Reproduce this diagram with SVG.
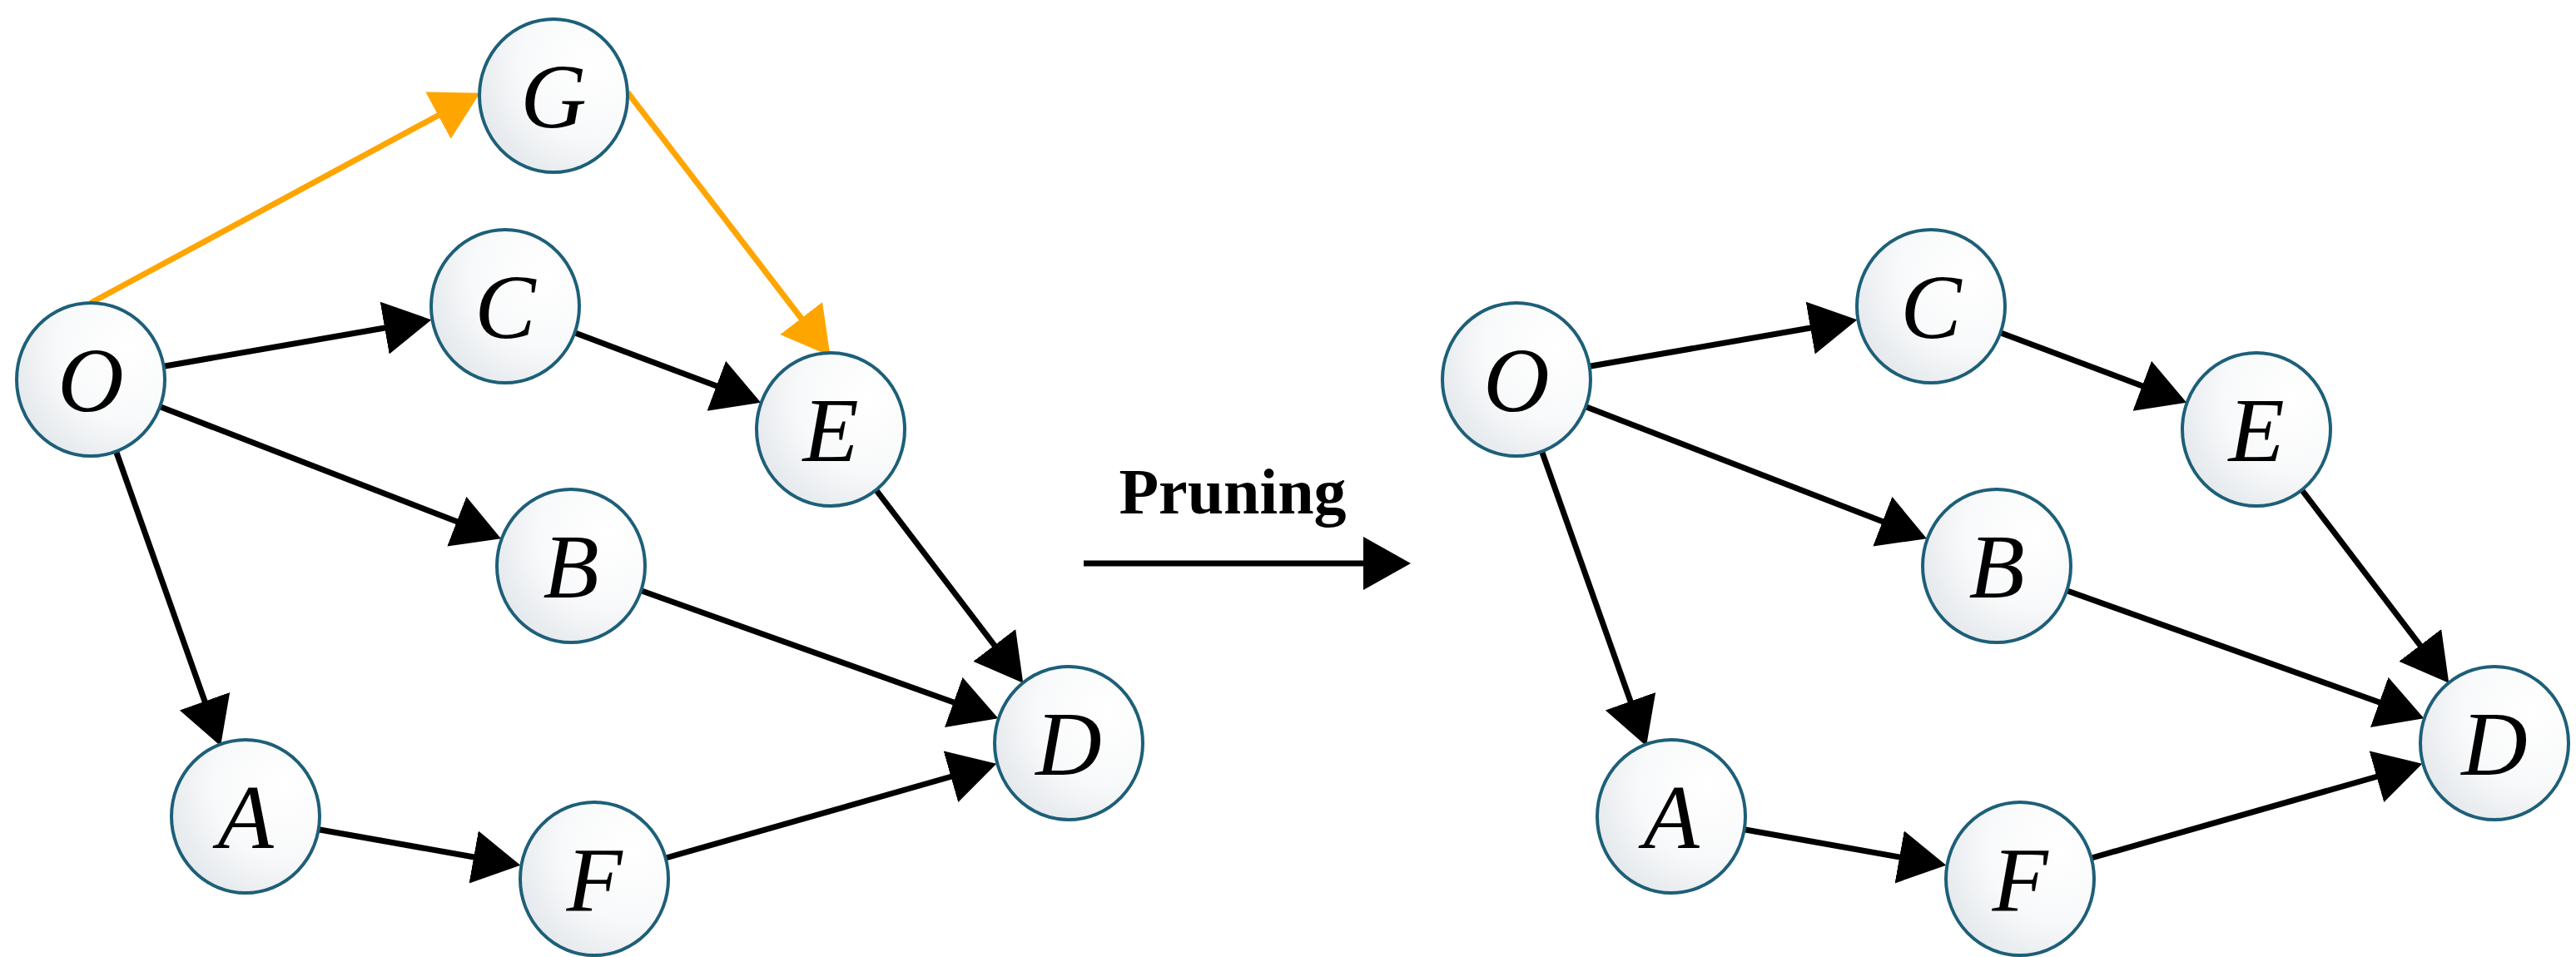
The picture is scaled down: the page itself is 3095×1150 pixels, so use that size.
<svg xmlns="http://www.w3.org/2000/svg" width="3095" height="1150" viewBox="0 0 3095 1150">
<style>
.n{fill:url(#g);stroke:#1d5f78;stroke-width:4}
.t{font-family:"Liberation Serif",serif;font-style:italic;font-size:110px;text-anchor:middle;fill:#000}
.e{stroke:#000;stroke-width:7;fill:none;marker-end:url(#a)}
.o{stroke:#FFA500;stroke-width:7;fill:none;marker-end:url(#ao)}
</style>
<defs>
<radialGradient id="g" cx="0.75" cy="0.3" r="0.95"><stop offset="0" stop-color="#ffffff"/><stop offset="0.5" stop-color="#f8f9fa"/><stop offset="1" stop-color="#dde2e7"/></radialGradient>
<marker id="a" markerUnits="userSpaceOnUse" markerWidth="70" markerHeight="70" refX="12" refY="32" orient="auto"><path d="M0,0 L57,32 L0,64 z" fill="#000"/></marker>
<marker id="ao" markerUnits="userSpaceOnUse" markerWidth="70" markerHeight="70" refX="12" refY="32" orient="auto"><path d="M0,0 L57,32 L0,64 z" fill="#FFA500"/></marker>
<g id="left-edges">
<line class="e" x1="198" y1="440" x2="474" y2="392"/>
<line class="e" x1="193" y1="489" x2="560" y2="631"/>
<line class="e" x1="139" y1="541" x2="250" y2="854"/>
<line class="e" x1="691" y1="400" x2="872" y2="468"/>
<line class="e" x1="1052" y1="588" x2="1202" y2="785"/>
<line class="e" x1="771" y1="710" x2="1157" y2="848"/>
<line class="e" x1="384" y1="997" x2="581" y2="1032"/>
<line class="e" x1="800" y1="1031" x2="1154" y2="930"/>
</g>
<g id="nodes-def">
<g id="nC"><ellipse class="n" cx="607" cy="368" rx="89" ry="92"/><text class="t" x="607" y="406">C</text></g>
<g id="nO"><ellipse class="n" cx="109" cy="456" rx="89" ry="92"/><text class="t" x="109" y="494">O</text></g>
<g id="nE"><ellipse class="n" cx="998" cy="516" rx="89" ry="92"/><text class="t" x="998" y="554">E</text></g>
<g id="nB"><ellipse class="n" cx="686" cy="680" rx="89" ry="92"/><text class="t" x="686" y="718">B</text></g>
<g id="nD"><ellipse class="n" cx="1284" cy="893" rx="89" ry="92"/><text class="t" x="1284" y="931">D</text></g>
<g id="nA"><ellipse class="n" cx="295" cy="981" rx="89" ry="92"/><text class="t" x="295" y="1019">A</text></g>
<g id="nF"><ellipse class="n" cx="714" cy="1056" rx="89" ry="92"/><text class="t" x="714" y="1094">F</text></g>
</g>
</defs>
<g id="connectors">
<use href="#left-edges"/>
<line class="o" x1="109" y1="364" x2="537" y2="133"/>
<line class="o" x1="754" y1="111" x2="970" y2="392"/>
<use href="#left-edges" x="1713"/>
<line x1="1302" y1="677" x2="1650" y2="677" stroke="#000" stroke-width="7" marker-end="url(#a)"/>
</g>
<g id="left-graph">
<use href="#nodes-def"/>
<g id="nG"><ellipse class="n" cx="665" cy="115" rx="89" ry="92"/><text class="t" x="665" y="153">G</text></g>
</g>
<g id="right-graph">
<use href="#nodes-def" x="1713"/>
</g>
<text x="1481" y="617" font-family="Liberation Serif,serif" font-weight="bold" font-size="78" text-anchor="middle">Pruning</text>
</svg>
